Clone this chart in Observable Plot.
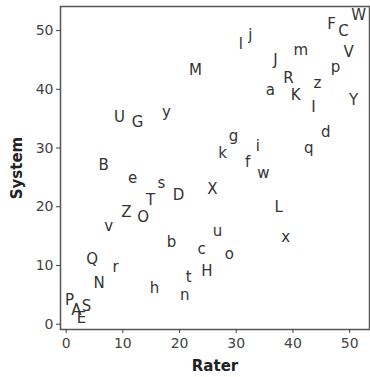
<!DOCTYPE html>
<html><head><meta charset="utf-8">
<script src="https://cdn.jsdelivr.net/npm/d3@7"></script>
<script src="https://cdn.jsdelivr.net/npm/@observablehq/plot@0.6"></script>
<style>body{margin:0;background:#fff}</style>
</head><body><div id="chart"></div>
<script>
const labels = ["A","B","C","D","E","F","G","H","I","J","K","L","M","N","O","P","Q","R","S","T","U","V","W","X","Y","Z",
  "a","b","c","d","e","f","g","h","i","j","k","l","m","n","o","p","q","r","s","t","u","v","w","x","y","z"];
const rater = [1.8,6.6,48.9,19.8,2.7,46.8,12.6,24.8,43.6,36.9,40.5,37.5,22.8,5.8,13.6,0.6,4.6,39.2,3.6,14.9,9.4,49.8,51.6,25.8,50.7,10.6,
  36.0,18.6,23.9,45.8,11.7,32.0,29.5,15.6,33.8,32.5,27.6,30.8,41.4,20.9,28.8,47.5,42.8,8.7,16.8,21.6,26.7,7.5,34.8,38.7,17.7,44.3];
const system = [2.4,27.1,49.9,22.0,1.0,51.1,34.4,9.0,37.0,45.0,39.0,19.9,43.3,7.0,18.2,4.1,11.1,41.9,3.1,21.1,35.3,46.3,52.6,23.0,38.2,19.1,
  39.9,14.0,12.8,32.7,24.9,27.6,32.0,6.1,30.3,49.2,29.1,47.7,46.7,4.9,11.9,43.8,30.0,9.7,24.0,8.0,15.8,16.7,25.7,14.8,36.1,41.1];
const xTicks = [0,10,20,30,40,50];
const yTicks = [0,10,20,30,40,50];
const xTitle = "Rater";
const yTitle = "System";

const data = labels.map((l,i)=>({label:l, rater:rater[i], system:system[i]}));

const chart = Plot.plot({
  width:370, height:377, marginLeft:60, marginRight:1, marginTop:6, marginBottom:48,
  style:{fontFamily:"DejaVu Sans", background:"#fff"},
  x:{domain:[-1,53.5]}, y:{domain:[-0.9,54.1]},
  marks:[
    Plot.frame({stroke:"#555", strokeWidth:1.5}),
    Plot.axisX(xTicks, {tickSize:4, tickPadding:5, fontSize:14, color:"#444", label:null}),
    Plot.axisY(yTicks, {tickSize:4, tickPadding:3, fontSize:14, color:"#444", label:null}),
    Plot.text(data, {x:"rater", y:"system", text:"label", fontSize:15, fill:"#333"}),
    Plot.text([xTitle], {frameAnchor:"bottom", lineAnchor:"middle", textAnchor:"middle", dy:37, fontSize:15, fontWeight:"bold", fill:"#222"}),
    Plot.text([yTitle], {frameAnchor:"left", lineAnchor:"middle", textAnchor:"middle", dx:-43, rotate:-90, fontSize:15, fontWeight:"bold", fill:"#222"})
  ]
});
document.getElementById("chart").append(chart);
</script>
</body></html>
